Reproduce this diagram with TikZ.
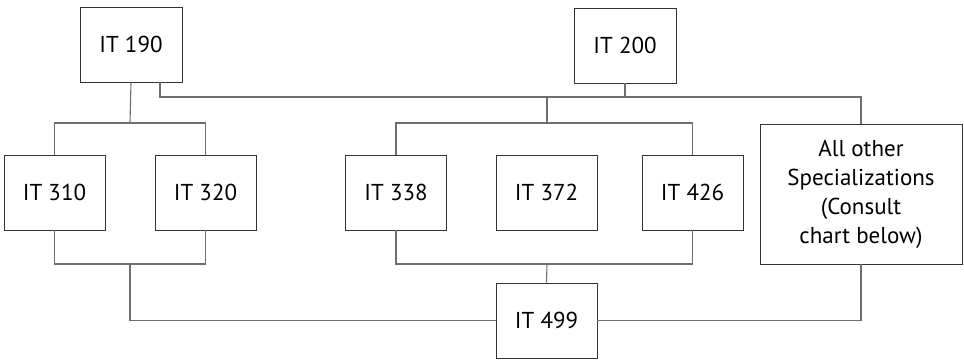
\documentclass[tikz,border=0pt]{standalone}
\usepackage{fontspec}
\setmainfont{PT Sans}
\usepackage{tikz}
\usetikzlibrary{positioning,calc}
\definecolor{boxGray}{HTML}{333333}
\definecolor{linkGray}{HTML}{6E6E6E}

\tikzset{
  course/.style={draw=boxGray,line width=0.9pt,minimum width=101pt,
                 minimum height=75pt,inner sep=0pt,align=center},
  link/.style={draw=linkGray,line width=1.1pt}
}

\begin{document}
\begin{tikzpicture}[x=1pt,y=-1pt,font=\fontsize{23}{29}\selectfont]
  \useasboundingbox (0,0) rectangle (964,359);
  % top row
  \node[course,minimum width=102pt] (it190) at (131,44.5) {IT 190};
  \node[course,minimum width=102pt] (it200) at (625,45.5) {IT 200};
  % middle row
  \node[course] (it310) at (54.5,192.5) {IT 310};
  \node[course] (it320) at (205.5,192.5) {IT 320};
  \node[course] (it338) at (396,192.5) {IT 338};
  \node[course] (it372) at (546.5,192.5) {IT 372};
  \node[course] (it426) at (692.5,192.5) {IT 426};
  \node[course,minimum width=202pt,minimum height=140pt] (allother) at (861,194)
    {All other\\Specializations\\(Consult\\chart below)};
  % bottom
  \node[course] (it499) at (546.5,320.5) {IT 499};

  % forks
  \coordinate (split190) at (130,123);
  \coordinate (rail200) at (625,97);
  \coordinate (fork200) at (547,97);
  \coordinate (split200) at (547,123);
  \coordinate (join310) at (130,264);
  \coordinate (join338) at (547,264);

  \draw[link] (it190.south) -- (split190);
  \draw[link] (it310.north) |- (split190) -| (it320.north);
  \draw[link] (it200.south) -- (rail200);
  \draw[link] ([xshift=29pt]it190.south) |- (rail200) -| (allother.north);
  \draw[link] (fork200) -- (split200);
  \draw[link] (it338.north) |- (split200) -| (it426.north);

  \draw[link] (it310.south) |- (join310) -| (it320.south);
  \draw[link] (join310) |- (it499.west);
  \draw[link] (it338.south) |- (join338) -| (it426.south);
  \draw[link] (join338) -- (it499.north);
  \draw[link] (allother.south) |- (it499.east);
\end{tikzpicture}
\end{document}
